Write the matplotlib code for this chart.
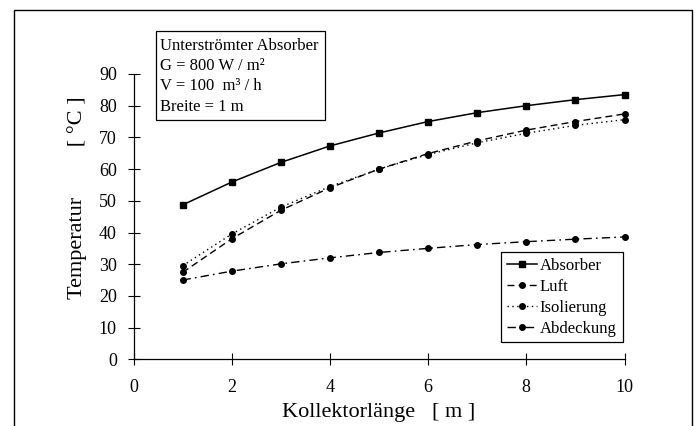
import matplotlib
matplotlib.use("Agg")
import matplotlib.pyplot as plt
from matplotlib.patches import Rectangle

plt.rcParams['font.family'] = ['Liberation Serif', 'DejaVu Serif']

# Collector length [m]
laenge = [1, 2, 3, 4, 5, 6, 7, 8, 9, 10]

# Temperatures [°C]
absorber = [48.7, 55.9, 62.1, 67.3, 71.4, 75.0, 77.8, 80.0, 81.9, 83.5]
luft = [27.4, 38.0, 47.0, 54.1, 60.0, 64.9, 68.9, 72.3, 75.0, 77.4]
isolierung = [29.5, 39.5, 48.0, 54.5, 60.0, 64.6, 68.3, 71.3, 73.8, 75.6]
abdeckung = [25.0, 27.8, 30.1, 32.0, 33.7, 35.0, 36.2, 37.1, 37.9, 38.6]

serien = ["Absorber", "Luft", "Isolierung", "Abdeckung"]
x_ticks = [0, 2, 4, 6, 8, 10]
y_ticks = [0, 10, 20, 30, 40, 50, 60, 70, 80, 90]

info_lines = ["Unterströmter Absorber", "G = 800 W / m²", "V = 100  m³ / h", "Breite = 1 m"]

W, H = 698, 426
fig = plt.figure(figsize=(W / 100, H / 100), dpi=100)

def fx(px):
    return px / W

def fy(py):
    return 1 - py / H

# outer chart border
fig.patches.append(Rectangle((fx(14), fy(440)), fx(692) - fx(14), fy(10) - fy(440),
                             transform=fig.transFigure, fill=False, lw=1.0,
                             edgecolor='black', zorder=0))

left, right, top, bottom = 133.5, 624.5, 74.0, 359.3
ax = fig.add_axes([fx(left), fy(bottom), fx(right) - fx(left), fy(top) - fy(bottom)])

ax.plot(laenge, absorber, color='black', lw=1.1, ls='-', marker='s', ms=4.5,
        label=serien[0], clip_on=False)
ax.plot(laenge, luft, color='black', lw=1.0, ls=(0, (5, 3)), marker='o', ms=4,
        label=serien[1], clip_on=False)
ax.plot(laenge, isolierung, color='black', lw=1.0, ls=(0, (1, 2.5)), marker='o', ms=4,
        label=serien[2], clip_on=False)
ax.plot(laenge, abdeckung, color='black', lw=1.0, ls=(0, (6, 3, 1.2, 3)), marker='o', ms=4,
        label=serien[3], clip_on=False)

ax.set_xlim(0, 10)
ax.set_ylim(0, 90)
ax.set_xticks(x_ticks)
ax.set_yticks(y_ticks)
ax.tick_params(direction='inout', length=8, width=0.8, labelsize=13, pad=8, colors='black')
ax.tick_params(axis='x', pad=10)
for s in ['top', 'right']:
    ax.spines[s].set_visible(False)
for s in ['left', 'bottom']:
    ax.spines[s].set_linewidth(0.9)

ax.set_xlabel("Kollektorlänge   [ m ]", fontsize=16, labelpad=5)
ax.set_ylabel("Temperatur         [ °C ]", fontsize=16)
ax.yaxis.set_label_coords(-0.094, 0.565)

leg = ax.legend(loc='upper left', bbox_to_anchor=(fx(500.7), fy(251.7)),
                bbox_transform=fig.transFigure, borderaxespad=0, fontsize=12,
                handlelength=1.8, handletextpad=0.2, labelspacing=0.3,
                borderpad=0.35, fancybox=False, framealpha=1, edgecolor='black')
leg.get_frame().set_linewidth(0.9)

# info box
fig.patches.append(Rectangle((fx(156), fy(120)), fx(325) - fx(156), fy(31) - fy(120),
                             transform=fig.transFigure, fill=False, lw=0.9,
                             edgecolor='black'))
for i, line in enumerate(info_lines):
    fig.text(fx(160), fy(45.8 + i * 20.3), line, fontsize=12, va='center', ha='left')

fig.savefig("out.png", dpi=100)
